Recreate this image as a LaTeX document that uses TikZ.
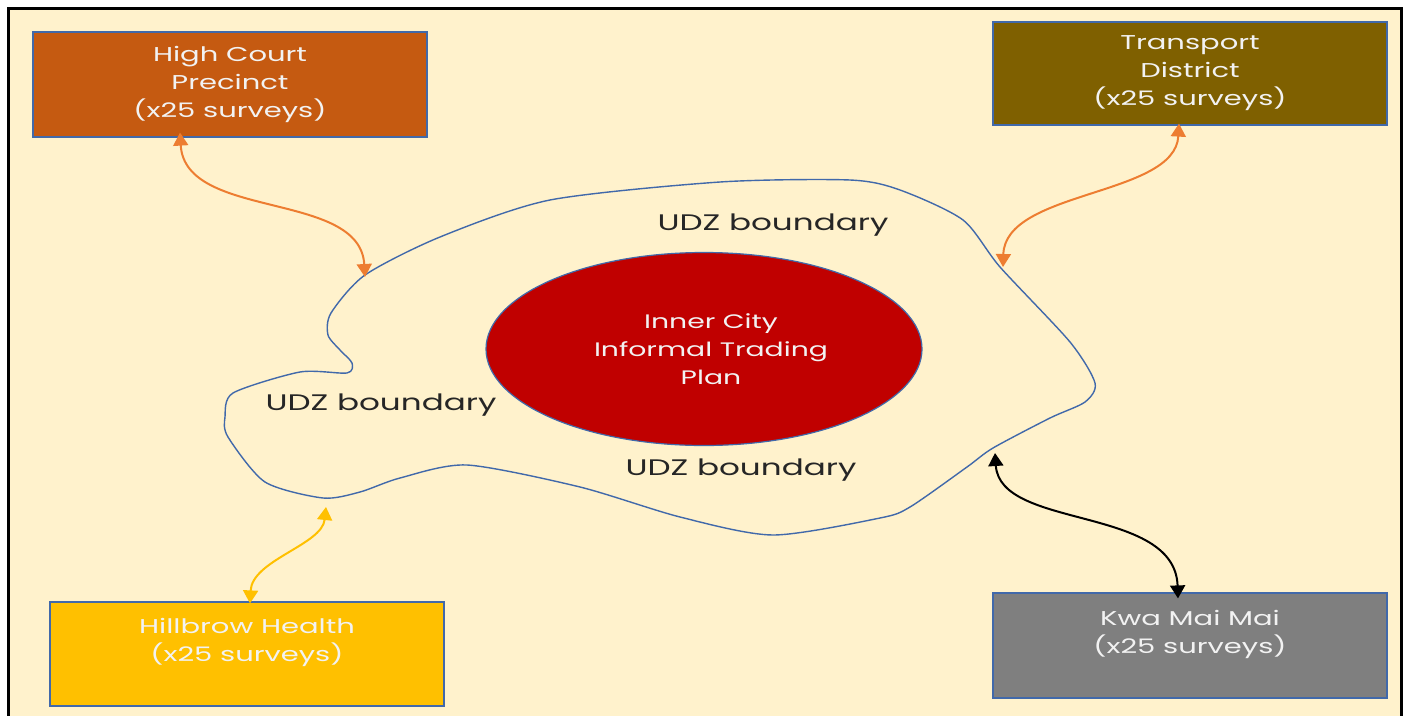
\documentclass[tikz,border=0pt]{standalone}
\usepackage{fontspec}
\setmainfont{Poppins}[FakeStretch=1.45]
\usetikzlibrary{shapes.geometric,arrows.meta}
\definecolor{cream}{RGB}{255,242,204}
\definecolor{hcfill}{RGB}{197,90,17}
\definecolor{trfill}{RGB}{127,96,0}
\definecolor{hbfill}{RGB}{255,192,0}
\definecolor{kwfill}{RGB}{127,127,127}
\definecolor{redfill}{RGB}{192,0,0}
\definecolor{edgeblue}{RGB}{65,105,170}
\definecolor{arrorange}{RGB}{237,125,49}
\definecolor{arryellow}{RGB}{255,192,0}
\definecolor{txtwhite}{RGB}{242,242,242}
\definecolor{txtdark}{RGB}{38,38,38}
\tikzset{
  areabox/.style={draw=edgeblue,line width=1.2pt,minimum width=394pt,minimum height=104pt,inner sep=0pt,
    align=center,text=txtwhite,font=\fontsize{20}{28}\selectfont},
  udz/.style={text=txtdark,font=\fontsize{22.5}{28}\selectfont,inner sep=0pt},
  link/.style={line width=2pt,{Triangle[width=15pt,length=13pt]}-{Triangle[width=15pt,length=13pt]}},
}
\begin{document}
\begin{tikzpicture}[x=1pt,y=-1pt]
\useasboundingbox (0,0) rectangle (1410,715);
\clip (0,0) rectangle (1410,715);
\fill[white] (0,0) rectangle (1410,715);
\draw[fill=cream,line width=3pt] (8.5,8.5) rectangle (1401.5,740);

% boundary
\draw[edgeblue,line width=1.4pt] plot[smooth cycle,tension=0.45] coordinates{
 (340,350) (352,363) (347,373) (300,372) (233,393) (225,417) (228,437) (265,482) (323,498)
 (360,492) (400,478) (467,465) (580,487) (680,517) (773,535) (880,518) (910,507) (967,467)
 (993,448) (1050,418) (1085,402) (1095,383) (1070,342) (1000,267) (963,220) (900,190)
 (850,180) (720,182) (550,200) (440,237) (365,275) (331,313) (328,335)};

\coordinate (bHC) at (365,277);
\coordinate (bTR) at (1003,267);
\coordinate (bHB) at (326,507);
\coordinate (bKW) at (995,453);

\node[ellipse,draw=edgeblue,line width=1.2pt,fill=redfill,minimum width=436pt,minimum height=193pt,inner sep=0pt,
  align=center,text=txtwhite,font=\fontsize{19.5}{28}\selectfont] (icp) at (704,349)
  {\hspace*{14pt}Inner City\\\hspace*{14pt}Informal Trading\\\hspace*{14pt}Plan};

\node[areabox,fill=hcfill,minimum height=105pt] (hc) at (230,84.5) {High Court\\Precinct\\(x25 surveys)};
\node[areabox,fill=trfill,minimum height=103pt] (tr) at (1190,73.5) {Transport\\District\\(x25 surveys)};
\node[areabox,fill=hbfill] (hb) at (247,654) {Hillbrow Health\\(x25 surveys)\\\mbox{}};
\node[areabox,fill=kwfill,minimum height=105pt] (kw) at (1190,645.5) {Kwa Mai Mai\\(x25 surveys)\\\mbox{}};

\node[udz] (u1) at (773,225) {UDZ boundary};
\node[udz] (u2) at (381,405) {UDZ boundary};
\node[udz] (u3) at (741,470) {UDZ boundary};

\draw[link,arrorange] ([xshift=-50pt,yshift=5pt]hc.south) .. controls +(5,88) and (360,190) .. (bHC);
\draw[link,arrorange] ([xshift=-11pt,yshift=2pt]tr.south) .. controls +(-4,73) and (1005,190) .. (bTR);
\draw[link,arryellow] (bHB) .. controls (322,545) and (252,560) .. ([xshift=3pt,yshift=-2pt]hb.north);
\draw[link,black] (bKW) .. controls (1000,530) and (1175,505) .. ([xshift=-12pt,yshift=-6pt]kw.north);
\end{tikzpicture}
\end{document}
